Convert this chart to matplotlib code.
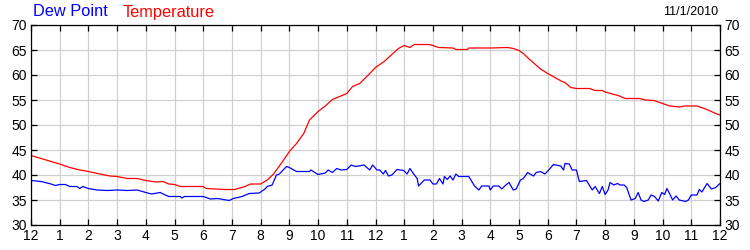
import matplotlib
matplotlib.use("Agg")
import matplotlib.pyplot as plt

# (hour since midnight, value) readings for 11/1/2010
temp_points = [(0, 43.9), (0.35, 43.3), (0.7, 42.7), (1, 42.2), (1.35, 41.5), (1.7, 41.0),
               (2, 40.7), (2.4, 40.2), (2.75, 39.8), (3, 39.7), (3.35, 39.3), (3.7, 39.3),
               (4, 38.9), (4.35, 38.6), (4.6, 38.7), (4.8, 38.2), (5, 38.1), (5.2, 37.7),
               (6, 37.7), (6.1, 37.3), (6.75, 37.1), (7.1, 37.1), (7.45, 37.7), (7.65, 38.2),
               (8, 38.2), (8.23, 39.0), (8.45, 40.2), (8.55, 41.0), (8.8, 43.0), (9, 44.7),
               (9.25, 46.3), (9.5, 48.3), (9.7, 51.0), (10, 52.7), (10.25, 53.8), (10.5, 55.1),
               (11, 56.3), (11.2, 57.7), (11.45, 58.3), (11.8, 60.3), (12, 61.5), (12.3, 62.7),
               (12.55, 64.0), (12.8, 65.3), (13, 65.9), (13.2, 65.5), (13.35, 66.1), (13.85, 66.1),
               (14, 65.9), (14.2, 65.5), (14.7, 65.4), (14.8, 65.1), (15.2, 65.1), (15.25, 65.4),
               (16, 65.4), (16.6, 65.5), (16.8, 65.3), (17, 64.9), (17.15, 64.3), (17.35, 63.2),
               (17.55, 62.2), (17.75, 61.2), (18, 60.3), (18.25, 59.5), (18.5, 58.7), (18.6, 58.5),
               (18.8, 57.5), (19, 57.3), (19.45, 57.3), (19.65, 56.9), (19.9, 56.9), (20, 56.6),
               (20.25, 56.2), (20.45, 55.9), (20.7, 55.3), (21.2, 55.3), (21.4, 55.0), (21.7, 54.9),
               (22, 54.3), (22.25, 53.8), (22.6, 53.6), (22.75, 53.8), (23.2, 53.8), (23.45, 53.3),
               (23.7, 52.7), (23.85, 52.3), (24, 52.0)]

dew_points = [(0, 38.9), (0.35, 38.7), (0.7, 38.2), (0.85, 37.9), (1, 38.1), (1.2, 38.1),
              (1.35, 37.7), (1.6, 37.7), (1.7, 37.3), (1.8, 37.7), (2, 37.3), (2.3, 37.0),
              (2.65, 36.9), (3, 37.0), (3.35, 36.9), (3.7, 37.0), (4, 36.5), (4.2, 36.2),
              (4.5, 36.5), (4.6, 36.2), (4.8, 35.7), (5.2, 35.7), (5.25, 35.4), (5.35, 35.7),
              (6, 35.7), (6.25, 35.2), (6.5, 35.3), (6.9, 34.9), (7.05, 35.3), (7.35, 35.7),
              (7.6, 36.3), (7.95, 36.4), (8.15, 37.2), (8.23, 37.7), (8.4, 38.0), (8.55, 40.0),
              (8.65, 40.2), (8.9, 41.7), (9, 41.5), (9.25, 40.7), (9.7, 40.7), (9.75, 41.0),
              (10, 40.1), (10.25, 40.4), (10.35, 41.0), (10.5, 40.5), (10.65, 41.3), (10.8, 41.0),
              (11, 41.1), (11.15, 42.0), (11.3, 41.7), (11.6, 42.0), (11.8, 41.0), (11.9, 42.0),
              (12.05, 41.0), (12.15, 41.0), (12.27, 40.2), (12.35, 40.9), (12.45, 39.8), (12.57, 40.0),
              (12.75, 41.1), (12.98, 40.9), (13.1, 40.2), (13.2, 41.3), (13.33, 40.2), (13.45, 39.3),
              (13.5, 37.8), (13.7, 39.0), (13.9, 39.0), (14, 38.2), (14.12, 38.2), (14.23, 39.3),
              (14.35, 38.2), (14.4, 39.7), (14.5, 39.1), (14.6, 39.8), (14.7, 39.0), (14.8, 40.2),
              (14.9, 39.7), (15.25, 39.7), (15.45, 37.8), (15.6, 37.0), (15.7, 37.8), (15.95, 37.8),
              (16, 37.0), (16.1, 37.8), (16.3, 37.8), (16.4, 37.2), (16.5, 37.8), (16.65, 38.5),
              (16.8, 37.0), (16.9, 37.2), (17.05, 39.0), (17.15, 39.3), (17.3, 40.5), (17.5, 39.8),
              (17.6, 40.5), (17.75, 40.7), (17.9, 40.2), (18.05, 41.1), (18.2, 42.1), (18.45, 41.8),
              (18.55, 41.0), (18.6, 42.3), (18.75, 42.2), (18.85, 41.0), (19, 41.0), (19.1, 38.7),
              (19.35, 38.9), (19.55, 37.0), (19.65, 37.7), (19.8, 36.3), (19.9, 37.7), (20, 36.1),
              (20.1, 37.0), (20.17, 38.5), (20.3, 38.0), (20.43, 38.3), (20.52, 38.0), (20.66, 38.0),
              (20.75, 37.5), (20.9, 35.0), (21.05, 35.3), (21.15, 36.5), (21.25, 35.0), (21.35, 34.7),
              (21.5, 35.0), (21.6, 36.0), (21.72, 35.7), (21.85, 34.8), (21.97, 36.5), (22.07, 36.1),
              (22.15, 37.3), (22.26, 36.1), (22.35, 35.0), (22.47, 35.8), (22.58, 35.0), (22.8, 34.7),
              (22.9, 35.0), (23, 36.0), (23.2, 36.0), (23.28, 37.1), (23.37, 36.6), (23.55, 38.3),
              (23.7, 37.2), (23.85, 37.5), (24, 38.3)]

temp_hours = [p[0] for p in temp_points]
temp_vals = [p[1] for p in temp_points]
dew_hours = [p[0] for p in dew_points]
dew_vals = [p[1] for p in dew_points]

hour_ticks = list(range(25))
hour_labels = ["12"] + [str(h) for h in range(1, 12)] + ["12"] + [str(h) for h in range(1, 12)] + ["12"]
y_ticks = [30, 35, 40, 45, 50, 55, 60, 65, 70]
date_label = "11/1/2010"

plt.rcParams["font.family"] = ["Liberation Sans", "DejaVu Sans"]

fig = plt.figure(figsize=(7.5, 2.5), dpi=100)
ax = fig.add_axes([31 / 750, 25 / 250, 689 / 750, 200 / 250])

ax.plot(dew_hours, dew_vals, color="#0000ff", lw=0.9)
ax.plot(temp_hours, temp_vals, color="#ff0000", lw=0.9)

ax.set_xlim(0, 24)
ax.set_ylim(30, 70)
ax.set_xticks(hour_ticks)
ax.set_xticklabels(hour_labels)
ax.set_yticks(y_ticks)
ax.grid(True, color="#d0d0d0", lw=0.9)
ax.set_axisbelow(True)
ax.tick_params(axis="both", direction="in", length=4, width=0.9, labelsize=10,
               top=True, right=True, labelright=True, pad=3)
for s in ax.spines.values():
    s.set_linewidth(0.9)

fig.text(33 / 750, 1 - 12 / 250, "Dew Point", color="#0000ff", fontsize=11.8, va="center")
fig.text(123 / 750, 1 - 12 / 250, "Temperature", color="#ff0000", fontsize=11.8, va="center")
fig.text(718 / 750, 1 - 12 / 250, date_label, color="black", fontsize=9, va="center", ha="right")

fig.savefig("out.png", dpi=100)
